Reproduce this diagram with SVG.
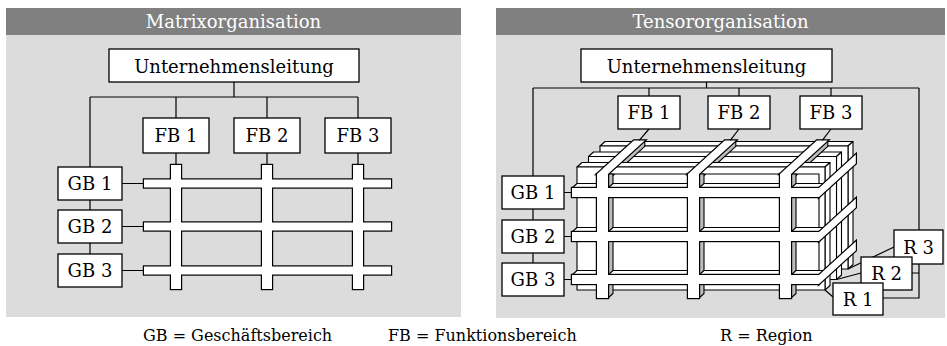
<svg xmlns="http://www.w3.org/2000/svg" width="947" height="346" viewBox="0 0 947 346">
  <style>
    .panel{fill:#dcdcdc}
    .head{fill:#808080}
    .ttl{font-family:"DejaVu Serif","Liberation Serif",serif;font-size:18px;fill:#fff;text-anchor:middle}
    .box rect{fill:#fff;stroke:#000;stroke-width:1.3}
    .box text{font-family:"DejaVu Serif","Liberation Serif",serif;font-size:18px;fill:#000;text-anchor:middle}
    .ln{fill:none;stroke:#000;stroke-width:1.2}
    .face{fill:#fff;stroke:#000;stroke-width:1.1;stroke-linejoin:round}
    .side{fill:#bdbdbd;stroke:#000;stroke-width:1.1;stroke-linejoin:round}
    /* outline pass, then fill pass: bars and rods read as one merged shape */
    .us{fill:none;stroke:#000;stroke-width:2.4;stroke-linejoin:miter}
    .uf{fill:#fff;stroke:none}
    .legend{font-family:"DejaVu Serif","Liberation Serif",serif;font-size:16px;fill:#000}
  </style>

  <defs>
    <!-- a rear region plate: only its frame edges show -->
    <g id="backLayer">
      <path class="face" d="M577,167L582,162.5H830L825,167Z"/>
      <path class="face" d="M825,167L830,162.5V285.5L825,290Z"/>
      <rect class="face" x="577" y="167" width="248" height="123"/>
    </g>
    <!-- front region: frame, recessed window faces, bars and rods -->
    <g id="frontBase">
      <path class="face" d="M577,167L582,162.5H830L825,167Z"/>
      <path class="face" d="M825,167L830,162.5V285.5L825,290Z"/>
      <path class="face" fill-rule="evenodd" d="M577,167H825V290H577Z M597,174H819V284H597Z"/>
      <!-- right faces of the vertical rods -->
      <path class="side" d="M608,174V298L613,293.5V174Z"/>
      <path class="side" d="M699,174V298L704,293.5V174Z"/>
      <path class="side" d="M791,174V298L796,293.5V174Z"/>
      <!-- top faces of the horizontal bars, between the rods -->
      <path class="face" d="M572,188H597L602,183.5H577Z M608,188H688L693,183.5H613Z M699,188H780L785,183.5H704Z M791,188H819L824,183.5H796Z"/>
      <path class="face" d="M572,232H597L602,227.5H577Z M608,232H688L693,227.5H613Z M699,232H780L785,227.5H704Z M791,232H819L824,227.5H796Z"/>
      <path class="face" d="M572,275H597L602,270.5H577Z M608,275H688L693,270.5H613Z M699,275H780L785,270.5H704Z M791,275H819L824,270.5H796Z"/>
    </g>
    <g id="lattice">
      <rect x="572" y="188" width="247" height="9"/>
      <rect x="572" y="232" width="247" height="9"/>
      <rect x="572" y="275" width="247" height="9"/>
      <rect x="597" y="174" width="11" height="124"/>
      <rect x="688" y="174" width="11" height="124"/>
      <rect x="780" y="174" width="11" height="124"/>
      <!-- depth rods: along the top for FB, along the right side for GB -->
      <polygon points="597,174 608,174 644.8,140.4 633.8,140.4"/>
      <polygon points="688,174 699,174 735.8,140.4 724.8,140.4"/>
      <polygon points="780,174 791,174 827.8,140.4 816.8,140.4"/>
      <polygon points="819,188 819,197 855.8,163.4 855.8,154.4"/>
      <polygon points="819,232 819,241 855.8,207.4 855.8,198.4"/>
      <polygon points="819,275 819,284 855.8,250.4 855.8,241.4"/>
    </g>
  </defs>

  <!-- panels -->
  <rect class="head" x="6" y="8" width="455" height="27"/>
  <rect class="panel" x="6" y="35" width="455" height="282"/>
  <text class="ttl" x="233.5" y="28">Matrixorganisation</text>
  <rect class="head" x="496" y="8" width="449" height="27"/>
  <rect class="panel" x="496" y="35" width="449" height="283"/>
  <text class="ttl" x="720.5" y="28">Tensororganisation</text>

  <!-- flat matrix grid -->
  <g id="matrix-grid">
    <g class="us">
      <rect x="144" y="179.5" width="247" height="8"/>
      <rect x="144" y="222.5" width="247" height="8"/>
      <rect x="144" y="266.5" width="247" height="8"/>
      <rect x="171" y="165" width="10" height="124"/>
      <rect x="262" y="165" width="10" height="124"/>
      <rect x="353" y="165" width="10" height="124"/>
    </g>
    <g class="uf">
      <rect x="144" y="179.5" width="247" height="8"/>
      <rect x="144" y="222.5" width="247" height="8"/>
      <rect x="144" y="266.5" width="247" height="8"/>
      <rect x="171" y="165" width="10" height="124"/>
      <rect x="262" y="165" width="10" height="124"/>
      <rect x="353" y="165" width="10" height="124"/>
    </g>
  </g>

  <!-- tensor lattice: three region plates, back to front -->
  <g id="tensor-cube">
    <use href="#backLayer" transform="translate(23,-21)"/>
    <use href="#backLayer" transform="translate(11.5,-10.5)"/>
    <!-- right faces of the top depth rods -->
    <path class="side" d="M608,174L644.8,140.4V146.4L608,180Z"/>
    <path class="side" d="M699,174L735.8,140.4V146.4L699,180Z"/>
    <path class="side" d="M791,174L827.8,140.4V146.4L791,180Z"/>
    <use href="#frontBase"/>
    <use class="us" href="#lattice"/>
    <use class="uf" href="#lattice"/>
  </g>

  <!-- connectors -->
  <g id="connectors" class="ln">
    <path d="M234,82V97 M90,97H358 M176,97V118 M267,97V118 M358,97V118"/>
    <path d="M90,97V167 M90,200V210 M90,243V254"/>
    <path d="M176,153V165 M267,153V165 M358,153V165"/>
    <path d="M122,183.5H144 M122,226.5H144 M122,270.5H144"/>
    <path d="M706.5,82V88 M533,88H919 M649,88V96 M739,88V96 M831,88V96"/>
    <path d="M533,88V176 M533,209V220 M533,253V263"/>
    <path d="M564,192.5H572 M564,236.5H572 M564,279.5H572"/>
    <path d="M649,129L639.3,140.4 M739,129L730.3,140.4 M831,129L822.3,140.4"/>
    <path d="M919,88V298H883 M912,273H919"/>
    <path d="M825,290L833,297 M836.5,279.5L861,273 M848,269L894,247"/>
  </g>

  <!-- matrix organisation nodes -->
  <g id="m-ul" class="box"><rect x="109" y="49" width="250" height="33"/><text x="234" y="72.5">Unternehmensleitung</text></g>
  <g id="m-fb1" class="box"><rect x="143" y="118" width="66" height="35"/><text x="176" y="142">FB 1</text></g>
  <g id="m-fb2" class="box"><rect x="234" y="118" width="66" height="35"/><text x="267" y="142">FB 2</text></g>
  <g id="m-fb3" class="box"><rect x="325" y="118" width="66" height="35"/><text x="358" y="142">FB 3</text></g>
  <g id="m-gb1" class="box"><rect x="58" y="167" width="64" height="33"/><text x="90" y="190">GB 1</text></g>
  <g id="m-gb2" class="box"><rect x="58" y="210" width="64" height="33"/><text x="90" y="233">GB 2</text></g>
  <g id="m-gb3" class="box"><rect x="58" y="254" width="64" height="33"/><text x="90" y="277">GB 3</text></g>

  <!-- tensor organisation nodes -->
  <g id="t-ul" class="box"><rect x="581" y="49" width="251" height="33"/><text x="706.5" y="72.5">Unternehmensleitung</text></g>
  <g id="t-fb1" class="box"><rect x="618" y="96" width="62" height="33"/><text x="649" y="119">FB 1</text></g>
  <g id="t-fb2" class="box"><rect x="708" y="96" width="62" height="33"/><text x="739" y="119">FB 2</text></g>
  <g id="t-fb3" class="box"><rect x="800" y="96" width="62" height="33"/><text x="831" y="119">FB 3</text></g>
  <g id="t-gb1" class="box"><rect x="502" y="176" width="62" height="33"/><text x="533" y="199">GB 1</text></g>
  <g id="t-gb2" class="box"><rect x="502" y="220" width="62" height="33"/><text x="533" y="243">GB 2</text></g>
  <g id="t-gb3" class="box"><rect x="502" y="263" width="62" height="33"/><text x="533" y="286">GB 3</text></g>
  <g id="t-r3" class="box"><rect x="894" y="230" width="49" height="34"/><text x="918.5" y="253.5">R 3</text></g>
  <g id="t-r2" class="box"><rect x="861" y="257" width="51" height="33"/><text x="886.5" y="280">R 2</text></g>
  <g id="t-r1" class="box"><rect x="833" y="283" width="50" height="32"/><text x="858" y="305.5">R 1</text></g>

  <!-- legend -->
  <text class="legend" x="143" y="341">GB = Geschäftsbereich</text>
  <text class="legend" x="388" y="341">FB = Funktionsbereich</text>
  <text class="legend" x="720" y="341">R = Region</text>
</svg>
